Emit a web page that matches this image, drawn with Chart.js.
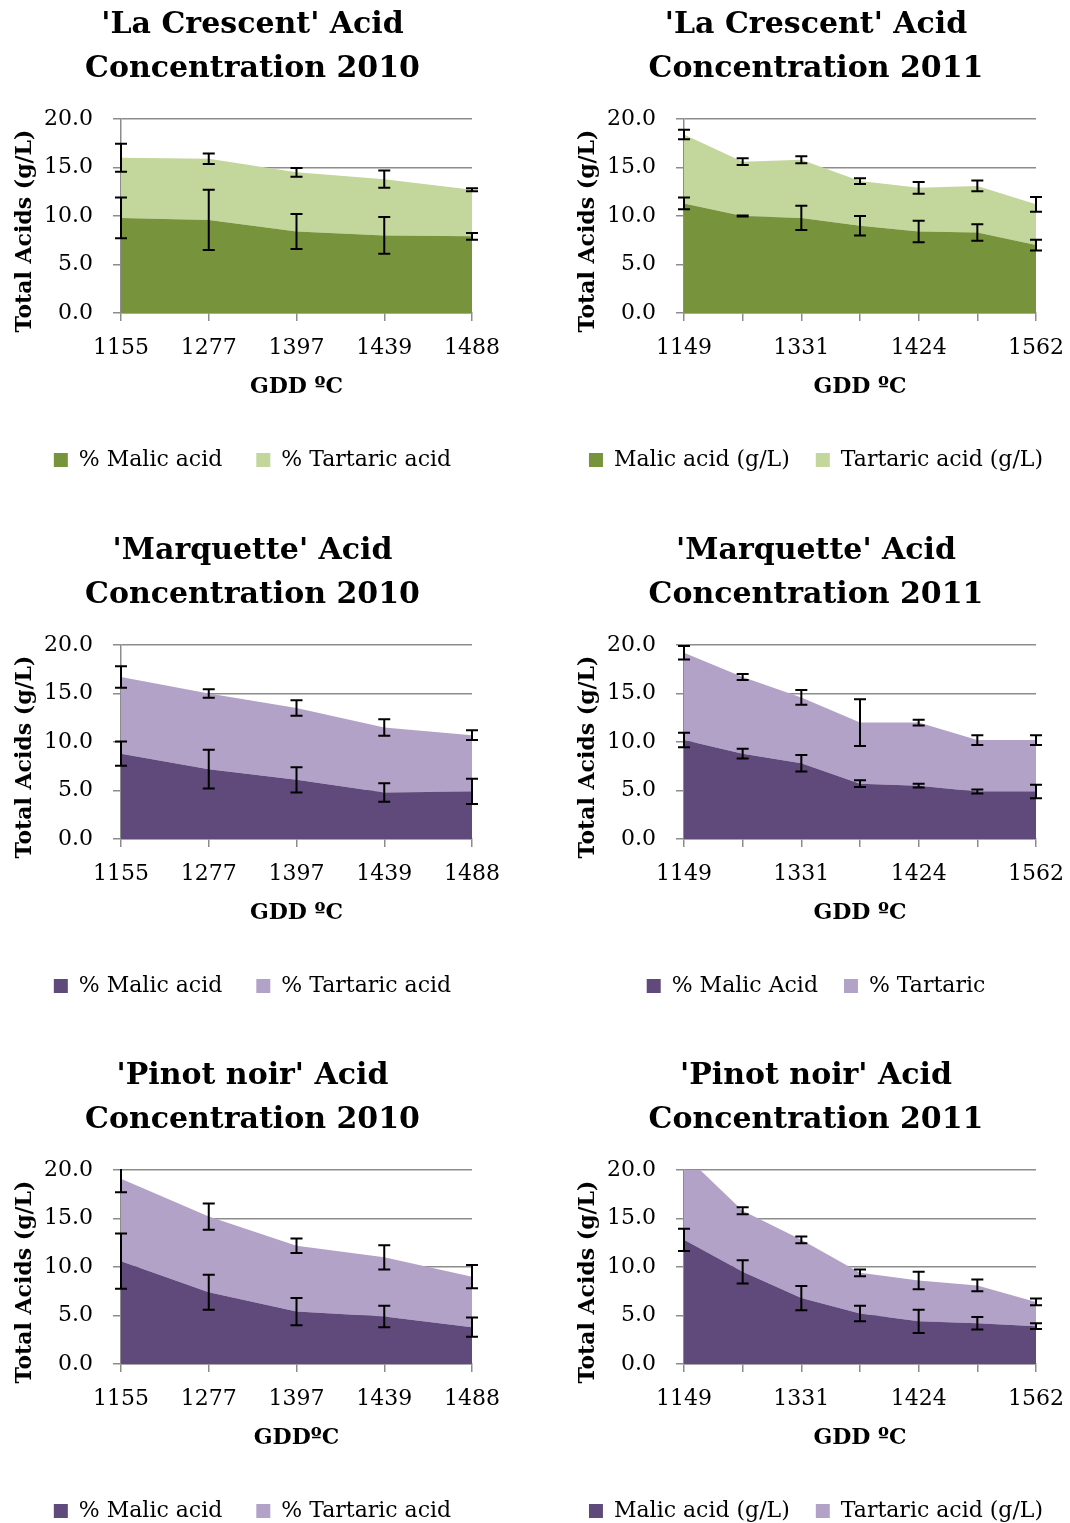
<!DOCTYPE html>
<html>
<head>
<meta charset="utf-8">
<script src="https://cdn.jsdelivr.net/npm/chart.js@4.4.1/dist/chart.umd.min.js"></script>
<style>
  html, body { margin: 0; padding: 0; background: #fff; }
  body { width: 1070px; height: 1523px; position: relative; overflow: hidden; }
  canvas { position: absolute; }
</style>
</head>
<body>
<canvas id="c1" width="505" height="481" style="left:0px;top:0px"></canvas>
<canvas id="c2" width="535" height="481" style="left:535px;top:0px"></canvas>
<canvas id="c3" width="505" height="481" style="left:0px;top:526px"></canvas>
<canvas id="c4" width="535" height="481" style="left:535px;top:526px"></canvas>
<canvas id="c5" width="505" height="481" style="left:0px;top:1051px"></canvas>
<canvas id="c6" width="535" height="481" style="left:535px;top:1051px"></canvas>
<script>
// Growing degree days at each sampling date
const gdd2010 = ['1155', '1277', '1397', '1439', '1488'];
const gdd2011 = ['1149', '', '1331', '', '1424', '', '1562'];

// 'La Crescent' 2010 (g/L)
const lc10Malic = [9.8, 9.6, 8.4, 8.0, 7.9];
const lc10Tartaric = [6.2, 6.3, 6.1, 5.8, 4.8];
const lc10MalicErr = [2.1, 3.1, 1.8, 1.9, 0.35];
const lc10TartaricErr = [1.45, 0.55, 0.45, 0.9, 0.15];

// 'La Crescent' 2011 (g/L)
const lc11Malic = [11.3, 10.0, 9.8, 9.0, 8.4, 8.3, 7.0];
const lc11Tartaric = [7.1, 5.6, 6.0, 4.6, 4.5, 4.8, 4.2];
const lc11MalicErr = [0.6, 0.05, 1.25, 1.0, 1.1, 0.85, 0.55];
const lc11TartaricErr = [0.5, 0.35, 0.35, 0.3, 0.6, 0.55, 0.75];

// 'Marquette' 2010 (g/L)
const mq10Malic = [8.8, 7.2, 6.1, 4.8, 4.9];
const mq10Tartaric = [7.9, 7.8, 7.4, 6.7, 5.8];
const mq10MalicErr = [1.25, 2.0, 1.3, 0.95, 1.3];
const mq10TartaricErr = [1.1, 0.45, 0.8, 0.85, 0.5];

// 'Marquette' 2011 (g/L)
const mq11Malic = [10.2, 8.8, 7.8, 5.7, 5.5, 4.9, 4.9];
const mq11Tartaric = [9.0, 7.9, 6.8, 6.3, 6.5, 5.3, 5.3];
const mq11MalicErr = [0.75, 0.5, 0.85, 0.35, 0.2, 0.2, 0.7];
const mq11TartaricErr = [0.7, 0.3, 0.75, 2.4, 0.3, 0.5, 0.5];

// 'Pinot noir' 2010 (g/L)
const pn10Malic = [10.6, 7.4, 5.4, 4.9, 3.8];
const pn10Tartaric = [8.5, 7.8, 6.8, 6.1, 5.2];
const pn10MalicErr = [2.85, 1.8, 1.4, 1.1, 1.0];
const pn10TartaricErr = [1.4, 1.35, 0.75, 1.25, 1.2];

// 'Pinot noir' 2011 (g/L)
const pn11Malic = [12.8, 9.5, 6.8, 5.2, 4.4, 4.2, 3.9];
const pn11Tartaric = [8.8, 6.3, 6.0, 4.2, 4.2, 3.9, 2.5];
const pn11MalicErr = [1.15, 1.2, 1.25, 0.8, 1.2, 0.65, 0.3];
const pn11TartaricErr = [0.5, 0.35, 0.35, 0.35, 0.9, 0.6, 0.35];

const yTicks = [0, 5, 10, 15, 20];

const FONT = '"DejaVu Serif", "Liberation Serif", serif';
const GRID = '#8c8c8c';
const GREEN = ['#77933C', '#C3D69B'];
const PURPLE = ['#604A7B', '#B3A2C7'];

// Frame geometry for the left and right column panels
const LEFT_COL = { padLeft: 0, axisWidth: 121, padRight: 33, legendGap: 34, titleX: 25,
                   xHeight: 102, xTitlePad: 15 };
const RIGHT_COL = { padLeft: 27, axisWidth: 122, padRight: 34, legendGap: 26, titleX: 53,
                    xHeight: 110, xTitlePad: 23 };

Chart.defaults.font.family = FONT;
Chart.defaults.color = '#000';

// Symmetric error bars drawn at the top of each stacked layer
const errorBars = {
  id: 'errorBars',
  afterDatasetsDraw(chart) {
    const { ctx, chartArea: a } = chart;
    const xs = chart.scales.x, ys = chart.scales.y;
    const sums = [];
    ctx.save();
    ctx.beginPath();
    ctx.rect(a.left - 14, a.top - 1, a.right - a.left + 28, a.bottom - a.top + 2);
    ctx.clip();
    ctx.strokeStyle = '#000';
    ctx.lineWidth = 2;
    chart.data.datasets.forEach(ds => {
      ds.data.forEach((v, i) => {
        sums[i] = (sums[i] || 0) + v;
        const e = ds.errors[i];
        const px = xs.getPixelForValue(i);
        const lo = ys.getPixelForValue(sums[i] - e);
        const hi = ys.getPixelForValue(sums[i] + e);
        ctx.beginPath();
        ctx.moveTo(px, lo); ctx.lineTo(px, hi);
        ctx.moveTo(px - 6, lo); ctx.lineTo(px + 6, lo);
        ctx.moveTo(px - 6, hi); ctx.lineTo(px + 6, hi);
        ctx.stroke();
      });
    });
    ctx.restore();
  }
};

// Rotated value-axis title
const yTitle = {
  id: 'yTitle',
  afterDraw(chart, args, opts) {
    const { ctx, chartArea: a } = chart;
    ctx.save();
    ctx.translate(opts.x, (a.top + a.bottom) / 2 + opts.dy);
    ctx.rotate(-Math.PI / 2);
    ctx.font = 'bold 22px ' + FONT;
    ctx.fillStyle = '#000';
    ctx.textAlign = 'center';
    ctx.textBaseline = 'middle';
    ctx.fillText(opts.text, 0, 0);
    ctx.restore();
  }
};

function build(id, col, title, labels, names, malic, tartaric, malicErr, tartaricErr, colors, xTitle) {
  new Chart(document.getElementById(id), {
    type: 'line',
    data: {
      labels: labels,
      datasets: [
        { label: names[0], data: malic, errors: malicErr, backgroundColor: colors[0],
          borderColor: colors[0], borderWidth: 0, fill: 'origin', pointRadius: 0, tension: 0 },
        { label: names[1], data: tartaric, errors: tartaricErr, backgroundColor: colors[1],
          borderColor: colors[1], borderWidth: 0, fill: '-1', pointRadius: 0, tension: 0 }
      ]
    },
    options: {
      responsive: false,
      animation: false,
      devicePixelRatio: 1,
      layout: { padding: { left: col.padLeft, right: 0, top: 0, bottom: 0 } },
      plugins: {
        title: {
          display: true, text: title, color: '#000',
          font: { size: 30, weight: 'bold', lineHeight: 44 / 30 },
          padding: { top: 3, bottom: 28 }
        },
        legend: {
          position: 'bottom',
          labels: { boxWidth: 14, boxHeight: 14, padding: col.legendGap, color: '#000', font: { size: 22 } }
        },
        tooltip: { enabled: false },
        yTitle: { text: 'Total Acids (g/L)', x: col.titleX, dy: 15 }
      },
      scales: {
        x: {
          offset: false,
          afterFit: s => { s.height = col.xHeight; s.paddingRight = col.padRight; },
          grid: { drawOnChartArea: false, drawTicks: true, tickLength: 8, color: GRID, lineWidth: 1.5 },
          border: { display: true, color: GRID, width: 1.5 },
          ticks: { autoSkip: false, maxRotation: 0, padding: 14, color: '#000', font: { size: 22 } },
          title: { display: true, text: xTitle, color: '#000', font: { size: 22, weight: 'bold' },
                   padding: { top: 0, bottom: col.xTitlePad } }
        },
        y: {
          stacked: true,
          min: yTicks[0], max: yTicks[yTicks.length - 1],
          afterFit: s => { s.width = col.axisWidth; },
          afterBuildTicks: s => { s.ticks = yTicks.map(v => ({ value: v })); },
          grid: { drawOnChartArea: true, drawTicks: true, tickLength: 8, color: GRID, lineWidth: 1.5 },
          border: { display: true, color: GRID, width: 1.5 },
          ticks: { padding: 20, color: '#000', font: { size: 22 }, callback: v => Number(v).toFixed(1) }
        }
      }
    },
    plugins: [errorBars, yTitle]
  });
}

build('c1', LEFT_COL, ["'La Crescent' Acid", 'Concentration 2010'], gdd2010,
  ['% Malic acid', '% Tartaric acid'], lc10Malic, lc10Tartaric, lc10MalicErr, lc10TartaricErr, GREEN, 'GDD ºC');
build('c2', RIGHT_COL, ["'La Crescent' Acid", 'Concentration 2011'], gdd2011,
  ['Malic acid (g/L)', 'Tartaric acid (g/L)'], lc11Malic, lc11Tartaric, lc11MalicErr, lc11TartaricErr, GREEN, 'GDD ºC');
build('c3', LEFT_COL, ["'Marquette' Acid", 'Concentration 2010'], gdd2010,
  ['% Malic acid', '% Tartaric acid'], mq10Malic, mq10Tartaric, mq10MalicErr, mq10TartaricErr, PURPLE, 'GDD ºC');
build('c4', RIGHT_COL, ["'Marquette' Acid", 'Concentration 2011'], gdd2011,
  ['% Malic Acid', '% Tartaric'], mq11Malic, mq11Tartaric, mq11MalicErr, mq11TartaricErr, PURPLE, 'GDD ºC');
build('c5', LEFT_COL, ["'Pinot noir' Acid", 'Concentration 2010'], gdd2010,
  ['% Malic acid', '% Tartaric acid'], pn10Malic, pn10Tartaric, pn10MalicErr, pn10TartaricErr, PURPLE, 'GDDºC');
build('c6', RIGHT_COL, ["'Pinot noir' Acid", 'Concentration 2011'], gdd2011,
  ['Malic acid (g/L)', 'Tartaric acid (g/L)'], pn11Malic, pn11Tartaric, pn11MalicErr, pn11TartaricErr, PURPLE, 'GDD ºC');
</script>
</body>
</html>
